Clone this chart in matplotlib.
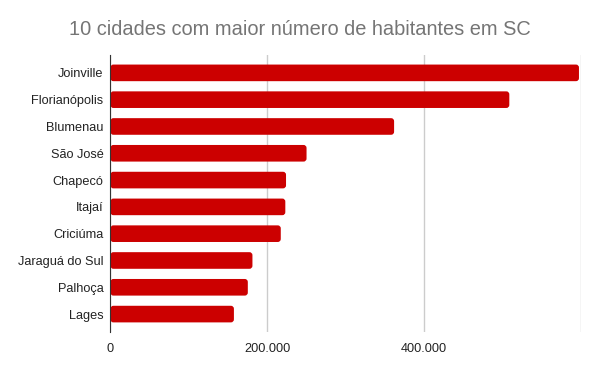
import matplotlib.pyplot as plt
from matplotlib.ticker import FuncFormatter
from matplotlib.patches import FancyBboxPatch

cidades = ["Joinville", "Florianópolis", "Blumenau", "São José", "Chapecó",
           "Itajaí", "Criciúma", "Jaraguá do Sul", "Palhoça", "Lages"]
habitantes = [597658, 508826, 361855, 250181, 224013,
              223112, 217311, 181173, 175272, 157544]
xticks = [0, 200000, 400000, 600000]

plt.rcParams['font.family'] = ['Liberation Sans', 'DejaVu Sans']

fig = plt.figure(figsize=(6, 3.71), dpi=100)
ax = fig.add_axes([0.184, 0.105, 0.784, 0.747])

pos = list(range(len(cidades)))[::-1]
bars = ax.barh(pos, habitantes, height=0.62, color='#cc0000', zorder=3)

# rounded ends like the original
sx = 600000 / 470.0
sy = 10.34 / 277.0
for b in bars:
    p = FancyBboxPatch((b.get_x(), b.get_y()), b.get_width(), b.get_height(),
                       boxstyle="round,pad=0,rounding_size=%f" % (3 * sx),
                       mutation_aspect=sy / sx, fc='#cc0000', ec='none', zorder=3)
    b.set_visible(False)
    ax.add_patch(p)

ax.set_xlim(0, 600000)
ax.set_ylim(-0.67, 9.67)
ax.set_yticks(pos)
ax.set_yticklabels(cidades)
ax.set_xticks(xticks)
ax.xaxis.set_major_formatter(FuncFormatter(
    lambda v, _: "" if v == 600000 else ("{:,.0f}".format(v).replace(",", "."))))
ax.tick_params(length=0, labelsize=9.2, labelcolor='#222222')
ax.tick_params(axis='x', pad=8)
ax.tick_params(axis='y', pad=5)
ax.grid(axis='x', color='#cccccc', linewidth=1, zorder=0)

for s in ['top', 'right', 'bottom']:
    ax.spines[s].set_visible(False)
ax.spines['left'].set_color('#333333')
ax.spines['left'].set_zorder(4)

fig.suptitle("10 cidades com maior número de habitantes em SC",
             x=0.5, y=0.945, fontsize=14.4, color='#757575')

fig.savefig("out.png", dpi=100)
